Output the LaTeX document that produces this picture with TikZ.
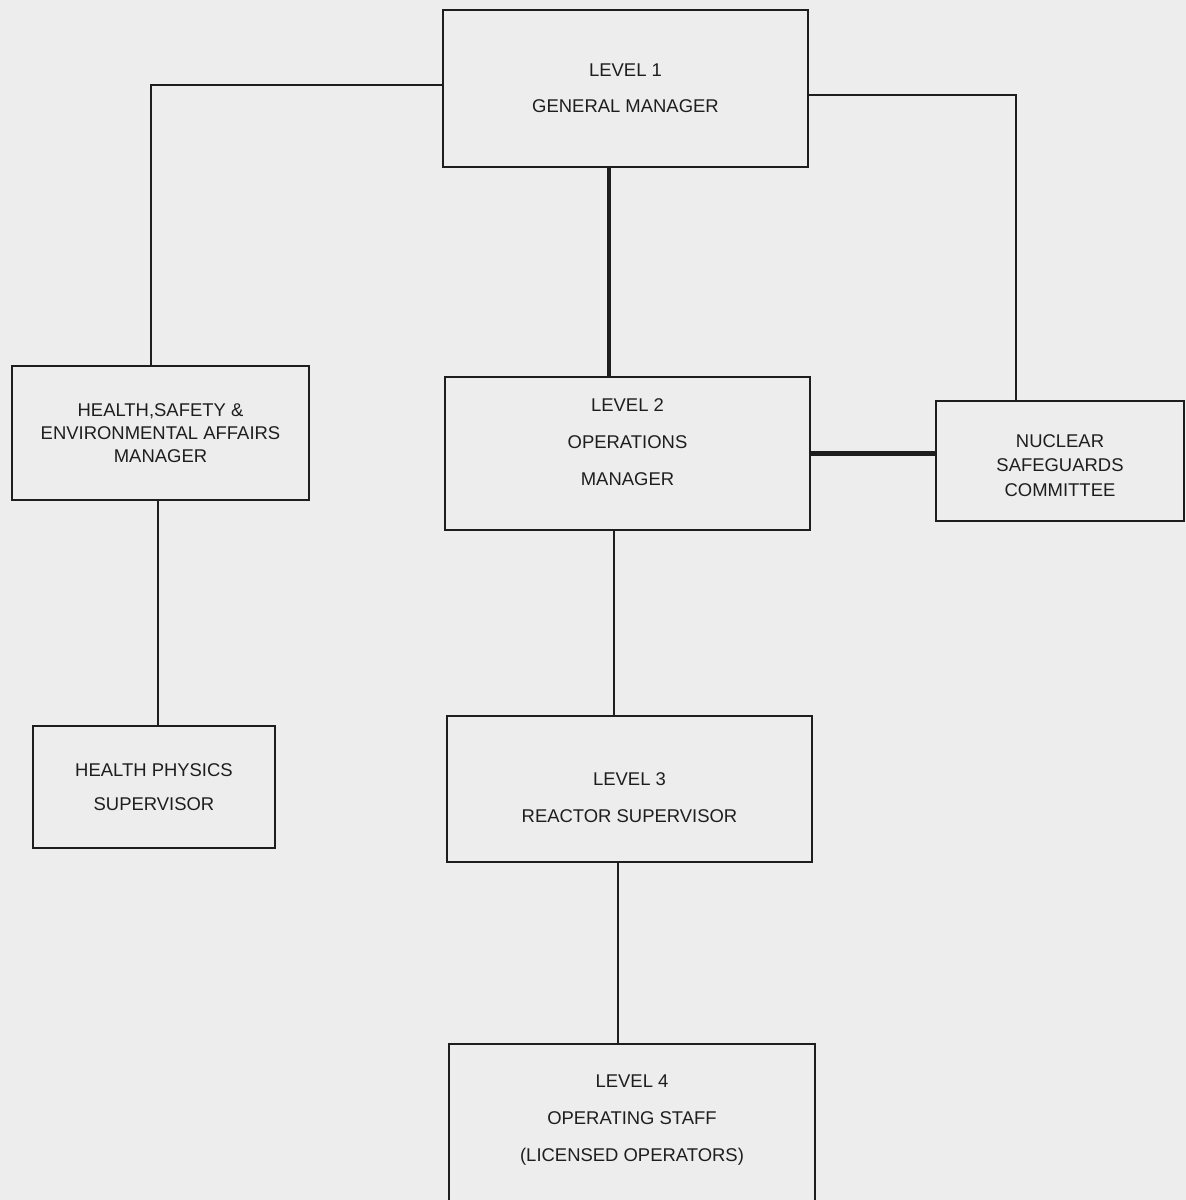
\documentclass[tikz,border=0pt]{standalone}
\usepackage{fontspec}
\setmainfont{Liberation Sans}
\usepackage{tikz}
\usetikzlibrary{positioning}
\definecolor{paper}{HTML}{EDEDED}
\definecolor{ink}{HTML}{1E1E1E}
\tikzset{x=0.02cm, y=-0.02cm, line join=miter}
\tikzstyle{box} = [draw=ink, line width=1.6pt, fill=paper, rectangle, text=ink, text centered, align=center, inner sep=0pt]
\tikzstyle{wide} = [box, font=\fontsize{10.5}{20.5}\selectfont]
\tikzstyle{tight} = [box, font=\fontsize{10.5}{13.2}\selectfont]
\tikzstyle{caption} = [text=ink, align=center, inner sep=0pt, font=\fontsize{10.5}{21}\selectfont]
\tikzstyle{link} = [draw=ink, line width=1.6pt]
\tikzstyle{heavy} = [draw=ink, line width=2.8pt]

\begin{document}
\begin{tikzpicture}
    \fill [paper] (0,0) rectangle (1186,1200);
    \useasboundingbox (0,0) rectangle (1186,1200);

    \node [wide, minimum width=7.3cm, minimum height=3.14cm] (lvlone) at (625.5,88.5) {LEVEL 1\\GENERAL MANAGER};
    \node [tight, minimum width=5.94cm, minimum height=2.68cm] (hsem) at (160.5,433) {HEALTH,SAFETY \&\\ENVIRONMENTAL AFFAIRS\\MANAGER};
    \node [box, minimum width=7.3cm, minimum height=3.06cm,
        label={[caption, yshift=0.23cm]center:{LEVEL 2\\OPERATIONS\\MANAGER}}] (lvltwo) at (627.5,453.5) {};
    \node [box, minimum width=4.96cm, minimum height=2.4cm,
        label={[caption, yshift=-0.09cm, font=\fontsize{10.5}{14}\selectfont]center:{NUCLEAR\\SAFEGUARDS\\COMMITTEE}}] (nsc) at (1060,461) {};
    \node [wide, minimum width=4.84cm, minimum height=2.44cm, font=\fontsize{10.5}{19.5}\selectfont] (hps) at (154,787) {HEALTH PHYSICS\\SUPERVISOR};
    \node [box, minimum width=7.3cm, minimum height=2.92cm,
        label={[caption, yshift=-0.17cm]center:{LEVEL 3\\REACTOR SUPERVISOR}}] (lvlthree) at (629.5,789) {};
    \node [box, minimum width=7.32cm, minimum height=3.32cm,
        label={[caption, yshift=0.14cm]center:{LEVEL 4\\OPERATING STAFF\\(LICENSED OPERATORS)}}] (lvlfour) at (632,1127) {};

    % taps on the box edges
    \coordinate (maintap) at (609,0);
    \coordinate (hsetap) at (151,85);
    \coordinate (nsctap) at (1016,95);
    \coordinate (hpstap) at (158,0);
    \coordinate (twotap) at (614,0);
    \coordinate (threetap) at (618,0);

    \draw [heavy] (lvlone.south -| maintap) -- (lvltwo.north -| maintap);
    \draw [link] (lvlone.west |- hsetap) -| (hsem.north -| hsetap);
    \draw [link] (lvlone.east |- nsctap) -| (nsc.north -| nsctap);
    \draw [heavy] (lvltwo.east) -- (lvltwo.east -| nsc.west);
    \draw [link] (hsem.south -| hpstap) -- (hps.north -| hpstap);
    \draw [link] (lvltwo.south -| twotap) -- (lvlthree.north -| twotap);
    \draw [link] (lvlthree.south -| threetap) -- (lvlfour.north -| threetap);
\end{tikzpicture}
\end{document}
